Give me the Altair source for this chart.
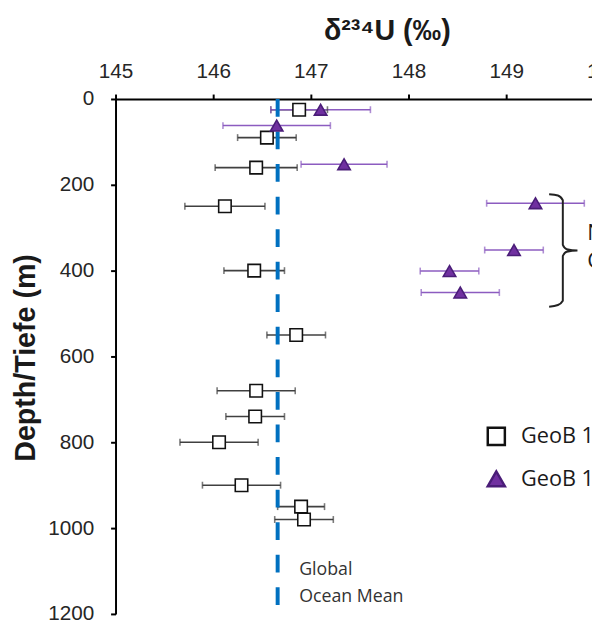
import altair as alt
import pandas as pd

# ---- data ----
series_names = ["GeoB 15103-1", "GeoB 15104-2"]

sq_depth = [25, 90, 160, 250, 400, 550, 680, 740, 800, 900, 950, 980]
sq_val = [146.88, 146.55, 146.44, 146.12, 146.42, 146.85, 146.44, 146.43, 146.06, 146.29, 146.90, 146.93]
sq_err = [0.29, 0.30, 0.42, 0.41, 0.31, 0.30, 0.40, 0.30, 0.40, 0.40, 0.24, 0.30]

tr_depth = [25, 62, 152, 243, 352, 401, 451]
tr_val = [147.10, 146.65, 147.34, 149.30, 149.08, 148.42, 148.53]
tr_err = [0.51, 0.55, 0.44, 0.50, 0.30, 0.30, 0.40]

ocean_mean = 146.66
mean_label = ["Global", "Ocean Mean"]
mean_label_depth = [1098, 1160]

brace_x = [149.44, 149.53, 149.58, 149.58, 149.62, 149.73, 149.62, 149.58, 149.58, 149.53, 149.44]
brace_depth = [222, 225, 236, 340, 350, 353, 356, 366, 470, 480, 484]
brace_label = ["North Atlantic", "Central Water"]
brace_label_depth = [312, 377]
brace_label_x = 149.83

x_ticks = [145, 146, 147, 148, 149, 150]
y_ticks = [0, 200, 400, 600, 800, 1000, 1200]

# ---- tables ----
rows = []
for d, v, e in zip(sq_depth, sq_val, sq_err):
    rows.append({"series": series_names[0], "depth": d, "val": v, "lo": v - e, "hi": v + e})
for d, v, e in zip(tr_depth, tr_val, tr_err):
    rows.append({"series": series_names[1], "depth": d, "val": v, "lo": v - e, "hi": v + e})
df = pd.DataFrame(rows)

brace_df = pd.DataFrame({"x": brace_x, "depth": brace_depth, "i": list(range(len(brace_x)))})
mean_df = pd.DataFrame({"x": [ocean_mean + 0.22] * 2, "depth": mean_label_depth, "t": mean_label})
bl_df = pd.DataFrame({"x": [brace_label_x] * 2, "depth": brace_label_depth, "t": brace_label})

# the axis runs to 150 but the picture is cut at the right edge
xscale = alt.Scale(domain=[145, 150], range=[0, 495], nice=False, zero=False)
yscale = alt.Scale(domain=[0, 1200], reverse=True, nice=False)

xaxis = alt.Axis(orient="top", values=x_ticks, format="d", title="δ²³⁴U (‰)",
                 titleFont="Liberation Sans", titleFontSize=29, titleFontWeight="bold",
                 titleX=275, titleY=-60, titleBaseline="alphabetic", titleAlign="center",
                 titleColor="#1a1a1a",
                 labelFont="Liberation Sans", labelFontSize=21, labelColor="#262626",
                 labelPadding=13, tickSize=5, tickWidth=2, tickColor="black",
                 domainColor="black", domainWidth=2, grid=False, labelFlush=False,
                 labelOverlap=False)
yaxis = alt.Axis(values=y_ticks, format="d", title="Depth/Tiefe (m)",
                 titleFont="Liberation Sans", titleFontSize=29, titleFontWeight="bold",
                 titleX=-82, titleY=262, titleBaseline="alphabetic", titleAlign="center",
                 titleAngle=-90, titleColor="#1a1a1a",
                 labelFont="Liberation Sans", labelFontSize=21, labelColor="#262626",
                 labelPadding=17, tickSize=5, tickWidth=2, tickColor="black",
                 domainColor="black", domainWidth=2, grid=False, labelFlush=False,
                 labelOverlap=False)

base = alt.Chart(df)
bar_colors = alt.Scale(domain=series_names, range=["#404040", "#8c5cc0"])

bars = base.mark_rule(strokeWidth=1.6).encode(
    x=alt.X("lo:Q", scale=xscale, axis=xaxis),
    x2="hi:Q",
    y=alt.Y("depth:Q", scale=yscale, axis=yaxis),
    color=alt.Color("series:N", scale=bar_colors, legend=None),
)

caps = base.transform_fold(["lo", "hi"], as_=["end", "xv"]).mark_tick(
    orient="vertical", thickness=1.6, size=7
).encode(
    x=alt.X("xv:Q", scale=xscale),
    y=alt.Y("depth:Q", scale=yscale),
    color=alt.Color("series:N", scale=bar_colors, legend=None),
)

mean_line = alt.Chart(pd.DataFrame({"m": [ocean_mean]})).mark_rule(
    color="#0070C0", strokeWidth=4, strokeDash=[18, 15]
).encode(x=alt.X("m:Q", scale=xscale))

legend = alt.Legend(orient="none", legendX=375, legendY=331, title=None,
                    labelFont="Open Sans", labelFontSize=22, labelColor="#1a1a1a",
                    symbolSize=300, symbolStrokeWidth=2.5,
                    labelOffset=14, rowPadding=16, padding=0, labelLimit=400)

points = base.mark_point(filled=True, strokeWidth=1.6, opacity=1, size=160).encode(
    x=alt.X("val:Q", scale=xscale),
    y=alt.Y("depth:Q", scale=yscale),
    shape=alt.Shape("series:N", scale=alt.Scale(domain=series_names, range=["square", "triangle-up"]), legend=legend),
    fill=alt.Fill("series:N", scale=alt.Scale(domain=series_names, range=["white", "#7030A0"]), legend=legend),
    stroke=alt.Stroke("series:N", scale=alt.Scale(domain=series_names, range=["#111111", "#4a1d78"]), legend=legend),
)

brace = alt.Chart(brace_df).mark_line(color="#222222", strokeWidth=2, interpolate="monotone").encode(
    x=alt.X("x:Q", scale=xscale),
    y=alt.Y("depth:Q", scale=yscale),
    order="i:Q",
)

mean_text = alt.Chart(mean_df).mark_text(align="left", baseline="middle", font="Open Sans",
                                         fontSize=18, color="#333333").encode(
    x=alt.X("x:Q", scale=xscale), y=alt.Y("depth:Q", scale=yscale), text="t:N")

brace_text = alt.Chart(bl_df).mark_text(align="left", baseline="middle", font="Open Sans",
                                        fontSize=22, color="#1a1a1a").encode(
    x=alt.X("x:Q", scale=xscale), y=alt.Y("depth:Q", scale=yscale), text="t:N")

chart = alt.layer(bars, caps, mean_line, points, brace, mean_text, brace_text).properties(
    width=483, height=522,
    autosize=alt.AutoSizeParams(type="none"),
    padding={"left": 109, "top": 88, "right": 0, "bottom": 7},
).configure_view(stroke=None).resolve_scale(color="independent")

chart.save("out.html", embed_options={"renderer": "svg", "actions": False})
